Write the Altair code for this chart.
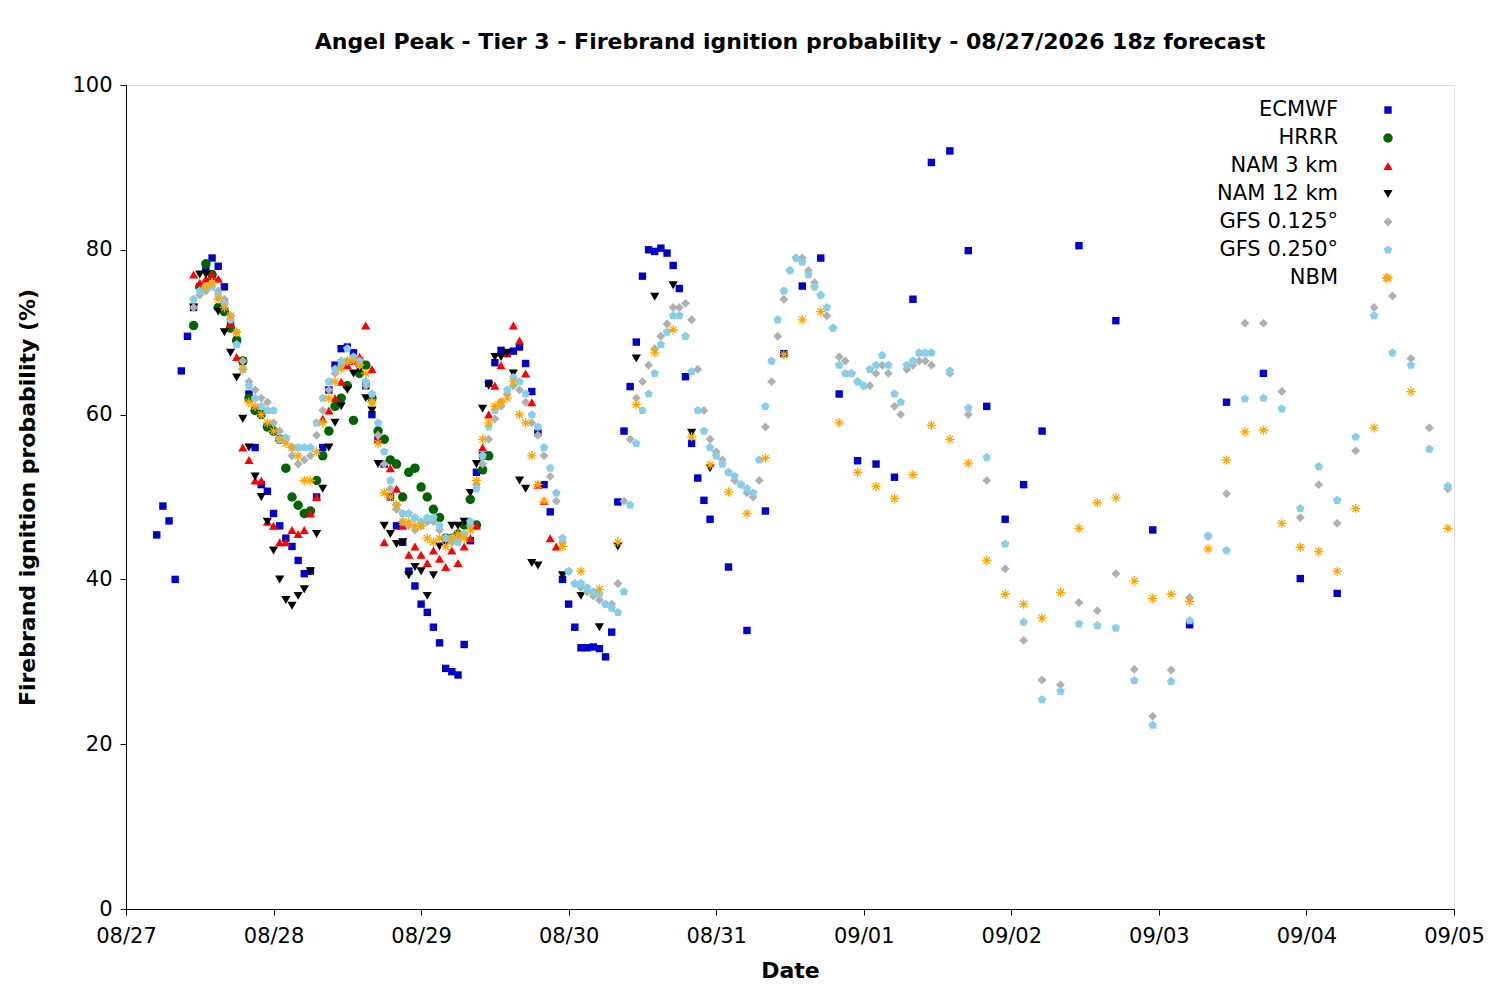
import pandas as pd
import altair as alt

FONT = "DejaVu Sans"

# hourly segments: (start hour after 08/27 00z, values)
ecmwf_start = 5
ecmwf_vals = [45.4, 48.9, 47.1, 40.0, 65.3, 69.5, 73, 75.5, 77.8, 79, 78, 75.5, 71, 69, 66.5,
              62.5, 56, 51.5, 50.7, 48, 46.5, 45, 44, 42.3, 40.7, 41, 50, 56, 63, 66, 68, 68.2,
              67.5, 66.5, 63.5, 60, 57, 54, 50, 46.5, 44.5, 41, 39.2, 37, 36, 34.2, 32.3, 29.2,
              28.8, 28.4, 32.1, 44.7, 53, 55, 63.8, 66.3, 67.8, 67.4, 67.7, 68.2, 66.2, 62.8,
              57.8, 51.5, 48.2]
ecmwf_start2 = 71
ecmwf_vals2 = [40, 37, 34.2, 31.7, 31.7, 31.8, 31.6, 30.6, 33.6, 49.4, 58, 63.4, 68.8, 76.8, 80,
               79.8, 80.2, 79.6, 78.1, 75.3, 64.6, 56.5, 52.3, 49.6, 47.3]
ecmwf_hours3 = [98, 101, 104, 107, 110, 113, 116, 119, 122, 125, 128, 131, 134, 137, 140, 143,
                146, 149, 155, 161, 167, 173, 179, 185, 191, 197]
ecmwf_vals3 = [41.5, 33.8, 48.3, 67.4, 75.6, 79, 62.5, 54.4, 54, 52.4, 74, 90.6, 92, 79.9, 61,
               47.3, 51.5, 58, 80.5, 71.4, 46, 34.5, 61.5, 65, 40.1, 38.3]

hrrr_start = 11
hrrr_vals = [70.8, 75.5, 78.3, 77, 73, 72.5, 70.5, 69, 66.5, 62, 60.5, 60, 58.5, 58, 57, 53.5, 50,
             49, 48, 48.3, 52, 55, 58, 61, 62, 63.5, 59.3, 65, 66, 62, 58, 57, 54.5, 54, 50, 53,
             53.5, 51.2, 50, 48.5, 47.5, 45, 45, 45.5, 46.6, 49.7, 46.6, 53.3, 55]

nam3_start = 11
nam3_vals = [77, 76, 76.5, 77, 76.5, 74, 71, 67, 56, 54.5, 52, 52, 47, 46.5, 44.5, 44.5, 46, 45.5,
             46, 48, 50, 59.5, 60.5, 62, 64, 66, 66.5, 67, 70.8, 65.5, 57, 44.5, 53.5, 51, 46.5,
             43, 44, 43, 42, 43.5, 42.5, 41.5, 43.5, 42, 44, 45, 46.5, 56, 60, 63.5, 66, 67.5,
             70.8, 69, 65, 61.5, 51.5, 49.5, 45, 44]

nam12_start = 11
nam12_vals = [73, 77, 77, 76, 72.5, 70, 67.5, 64.5, 59.5, 56, 52.5, 50, 47, 43.5, 40, 37.5, 36.8,
              38, 38.8, 41, 45.5, 51, 56, 59, 61, 63, 65, 65.5, 62, 60.5, 54, 46.5, 45.5, 44.3,
              44.5, 40.5, 41.5, 41, 38, 40.5, 44, 44.5, 46.5, 46.5, 47, 50.5, 54, 60.7, 63.5, 67,
              67, 67.5, 65, 52, 51, 42, 41.7]
nam12_hours2 = [71, 74, 77, 80, 83, 86, 89, 92, 95]
nam12_vals2 = [40.5, 38, 34.2, 44, 66.8, 74.3, 75.7, 57.8, 53.5]

gfs125_start = 11
gfs125_vals = [73, 74.5, 75, 76, 75, 74, 72, 70, 66.5, 64,
               63, 62, 61.5, 59, 58, 57, 55, 54, 54.5, 55,
               57.5, 60.5, 63, 65, 66, 66.5, 67, 66, 63.5, 61.5,
               57.5, 54, 51, 48.5, 47, 46.5, 46, 46.5, 47, 47,
               46, 45, 44.5, 45, 45.5, 46.5, 51.5, 54, 57, 59.5, 61, 62.5, 63.5,
               63, 61.5, 59, 57.5, 55, 52.5, 49.5, 44.5, 41, 39.5,
               39, 38.5, 38, 37.5, 37, 37, 39.5, 49.5, 57, 62,
               64, 66, 68, 69.5, 71, 73, 73, 73.5, 71.5, 65.5,
               60.5, 57, 55.5, 54.5, 53, 52, 51.5, 50.5, 50,
               52, 58.5, 64, 69.5, 74, 77.5, 79, 79,
               77.5, 76, 74.5, 72, 70.5, 67, 66.5, 65, 64, 63.5,
               63.5, 65, 66, 65, 61, 60, 65.5, 66, 66.5, 66.5, 66]
gfs125_hours2 = [134, 137, 140, 143, 146, 149, 152, 155, 158, 161, 164, 167, 170, 173, 176, 179,
                 182, 185, 188, 191, 194, 197, 200, 203, 206, 209, 212, 215]
gfs125_vals2 = [65, 60, 52, 41.3, 32.6, 27.8, 27.2, 37.2, 36.2, 40.7, 29.1, 23.4, 29, 37.8, 45.2,
                50.4, 71.1, 71.1, 62.8, 47.5, 51.5, 46.8, 55.6, 73, 74.4, 66.8, 58.4, 51]

gfs250_start = 11
gfs250_vals = [74, 75, 75.5, 75.5, 74.5, 73.5, 71.5, 68.5, 65.5, 63.5,
               62, 61, 60.5, 60.5, 57, 57.2, 56, 56, 56, 56,
               59, 62, 64, 65.5, 66.5, 68, 67, 66.5, 64, 62.5,
               59, 55.5, 52, 49, 48, 48, 47.5, 47, 47.5, 47.5,
               46.5, 45, 45, 44.5, 45.5, 47, 51, 55, 58.5, 60.5, 61.5, 63, 64.5,
               64, 62.5, 60, 58.5, 56, 53.5, 50.5, 45, 41, 39.5,
               39.5, 39, 38.5, 38.2, 37, 36.5, 36, 38.5, 49, 56.5,
               60.5, 62.5, 65, 68.5, 70, 72, 72, 69.5, 65.2, 60.5,
               58, 56, 55, 54, 53, 52.5, 51.5, 51, 50.5,
               54.5, 61, 66.5, 71.5, 75, 77.5, 79, 78.5,
               77, 75.5, 74.5, 73, 70.5, 66, 65, 65, 64, 63.5,
               65.5, 66, 67.2, 66, 62.5, 61.5, 66, 66.5, 67.5, 67.5, 67.5]
gfs250_hours2 = gfs125_hours2
gfs250_vals2 = [65.3, 60.8, 54.8, 44.3, 34.8, 25.4, 26.4, 34.6, 34.4, 34.1, 27.7, 22.3, 27.6, 35,
                45.3, 43.5, 61.9, 62, 60.7, 48.6, 53.7, 49.6, 57.3, 72, 67.5, 66, 55.8, 51.3]

nbm_start = 13
nbm_vals = [75.5, 76, 74, 73, 72, 70, 65.5, 61.5, 61, 60, 59, 58, 57, 56.5, 56, 55, 52, 52, 55.5,
            59, 62, 64, 65.5, 66.5, 66.5, 66, 65, 61.5, 56.5, 50.5, 50, 49, 47, 47, 46.5, 46.5,
            45, 44.5, 45, 44, 45, 45.5, 45, 46, 52, 57, 59, 61, 61.5, 62, 64, 60, 59, 55, 51.5,
            49.5]
nbm_hours2 = [71, 74, 77, 80, 83, 86, 89, 92, 95, 98, 101, 104, 107, 110, 113, 116, 119, 122, 125,
              128, 131, 134, 137, 140, 143, 146, 149, 152, 155, 158, 161, 164, 167, 170, 173, 176,
              179, 182, 185, 188, 191, 194, 197, 200, 203, 205, 209, 215]
nbm_vals2 = [44, 41, 38.8, 44.5, 61.2, 67.5, 70.3, 57.3, 53.9, 50.6, 48, 54.7, 67.3, 71.5, 72.5,
             59, 53, 51.3, 49.8, 52.7, 58.7, 57, 54.1, 42.3, 38.2, 37, 35.3, 38.4, 46.2, 49.3,
             49.9, 39.8, 37.7, 38.2, 37.3, 43.7, 54.5, 57.9, 58.1, 46.8, 43.9, 43.4, 41, 48.6,
             58.4, 76.6, 62.8, 46.2]

series = ["ECMWF", "HRRR", "NAM 3 km", "NAM 12 km", "GFS 0.125°", "GFS 0.250°", "NBM"]


def frame(name, parts):
    rows = []
    for hours, vals in parts:
        for h, v in zip(hours, vals):
            rows.append({"model": name,
                         "time": (pd.Timestamp("2026-08-27") + pd.Timedelta(hours=h)).strftime("%Y-%m-%dT%H:%M:%SZ"),
                         "prob": v})
    return pd.DataFrame(rows)


def hourly(start, vals):
    return list(range(start, start + len(vals))), vals


data = {
    "ECMWF": frame("ECMWF", [hourly(ecmwf_start, ecmwf_vals), hourly(ecmwf_start2, ecmwf_vals2),
                             (ecmwf_hours3, ecmwf_vals3)]),
    "HRRR": frame("HRRR", [hourly(hrrr_start, hrrr_vals)]),
    "NAM 3 km": frame("NAM 3 km", [hourly(nam3_start, nam3_vals)]),
    "NAM 12 km": frame("NAM 12 km", [hourly(nam12_start, nam12_vals), (nam12_hours2, nam12_vals2)]),
    "GFS 0.125°": frame("GFS 0.125°", [hourly(gfs125_start, gfs125_vals), (gfs125_hours2, gfs125_vals2)]),
    "GFS 0.250°": frame("GFS 0.250°", [hourly(gfs250_start, gfs250_vals), (gfs250_hours2, gfs250_vals2)]),
    "NBM": frame("NBM", [hourly(nbm_start, nbm_vals), (nbm_hours2, nbm_vals2)]),
}

pentagon = "M0,-1L0.951,-0.309L0.588,0.809L-0.588,0.809L-0.951,-0.309Z"
asterisk = "M-1,0L1,0M0,-1L0,1M-0.7,-0.7L0.7,0.7M-0.7,0.7L0.7,-0.7"
styles = {
    "ECMWF": dict(shape="square", color="#0000cc", size=55, filled=True),
    "HRRR": dict(shape="circle", color="#006400", size=90, filled=True),
    "NAM 3 km": dict(shape="triangle-up", color="#ff0000", size=85, filled=True),
    "NAM 12 km": dict(shape="triangle-down", color="#000000", size=85, filled=True),
    "GFS 0.125°": dict(shape="diamond", color="#b0b0b0", size=80, filled=True),
    "GFS 0.250°": dict(shape=pentagon, color="#87ceeb", size=80, filled=True),
    "NBM": dict(shape=asterisk, color="#ffa500", size=90, filled=False),
}

x_scale = alt.Scale(type="utc", domain=[alt.DateTime(year=2026, month=8, date=27, utc=True),
                                        alt.DateTime(year=2026, month=9, date=5, utc=True)])
y_scale = alt.Scale(domain=[0, 100])

layers = []
for i, name in enumerate(series):
    st = styles[name]
    mk = dict(shape=st["shape"], size=st["size"], opacity=1, filled=st["filled"])
    if st["filled"]:
        mk["fill"] = st["color"]
    else:
        mk["stroke"] = st["color"]
        mk["strokeWidth"] = 1.3
    layers.append(alt.Chart(data[name]).mark_point(**mk).encode(
        x=alt.X("time:T", scale=x_scale, title="Date",
                axis=alt.Axis(format="%m/%d", tickCount={"interval": "day", "step": 1},
                              grid=False, labelFontSize=21, titleFontSize=22, titleFontWeight="bold",
                              labelFont=FONT, titleFont=FONT, labelColor="black", titleColor="black",
                              domainColor="black", tickColor="black", titlePadding=14,
                              labelFlush=False, labelPadding=10, tickSize=6)),
        y=alt.Y("prob:Q", scale=y_scale, title="Firebrand ignition probability (%)",
                axis=alt.Axis(values=[0, 20, 40, 60, 80, 100], grid=False, labelFontSize=21,
                              titleFontSize=22, titleFontWeight="bold", labelFont=FONT,
                              titleFont=FONT, labelColor="black", titleColor="black",
                              domainColor="black", tickColor="black", titlePadding=32,
                              labelPadding=8, tickSize=6)),
    ))
    # legend entry
    ypos = 25 + 28 * i
    layers.append(alt.Chart(pd.DataFrame({"label": [name]})).mark_text(
        align="right", baseline="middle", fontSize=21, font=FONT, color="black").encode(
        text="label:N", x=alt.value(1212), y=alt.value(ypos)))
    layers.append(alt.Chart(pd.DataFrame({"label": [name]})).mark_point(**mk).encode(
        x=alt.value(1262), y=alt.value(ypos)))

chart = alt.layer(*layers).properties(
    width=1328, height=824,
    autosize=alt.AutoSizeParams(type="none"),
    padding={"left": 118, "top": 77, "right": 30, "bottom": 80},
    title=alt.TitleParams("Angel Peak - Tier 3 - Firebrand ignition probability - 08/27/2026 18z forecast",
                          font=FONT, fontSize=22, fontWeight="bold", color="black", offset=20),
).configure_view(stroke="black", strokeWidth=1.2).configure(background="white")

chart.save("out.html", embed_options={"renderer": "svg", "actions": False})
